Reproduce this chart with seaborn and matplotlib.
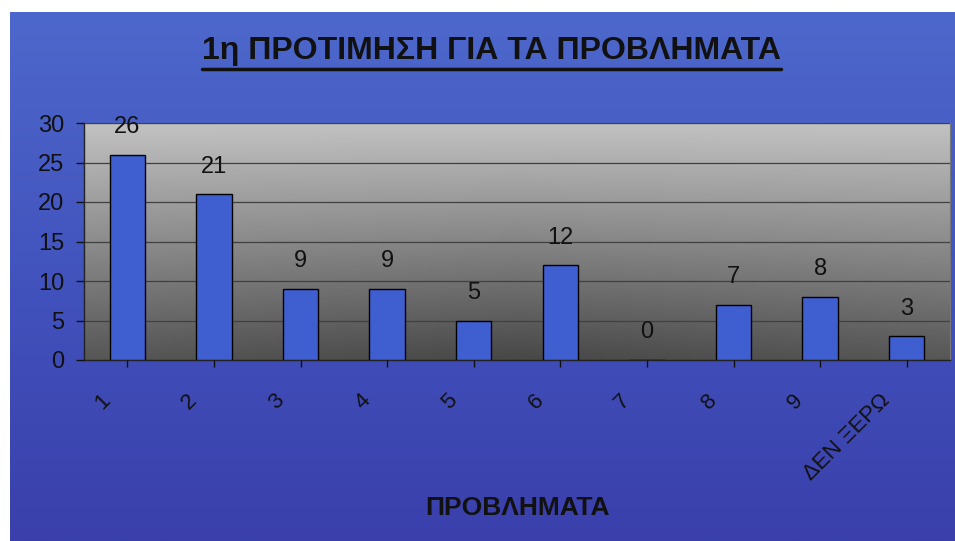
import numpy as np
import pandas as pd
import seaborn as sns
import matplotlib
matplotlib.use("Agg")
import matplotlib.pyplot as plt
from matplotlib.transforms import ScaledTranslation
from matplotlib.colors import LinearSegmentedColormap

categories = ["1", "2", "3", "4", "5", "6", "7", "8", "9", "ΔΕΝ ΞΕΡΩ"]
values = [26, 21, 9, 9, 5, 12, 0, 7, 8, 3]
yticks = [0, 5, 10, 15, 20, 25, 30]
title = "1η ΠΡΟΤΙΜΗΣΗ ΓΙΑ ΤΑ ΠΡΟΒΛΗΜΑΤΑ"
xlabel = "ΠΡΟΒΛΗΜΑΤΑ"

sns.set_theme(style="white")
plt.rcParams['font.family'] = ['Liberation Sans', 'DejaVu Sans']

W, H = 955, 541
fig = plt.figure(figsize=(W / 100, H / 100), dpi=100)
fig.patch.set_facecolor("white")

# blue background panel
bg = fig.add_axes([10 / W, 0, 1 - 10 / W, 1 - 12 / H])
bg.set_zorder(-10)
grad = np.linspace(0, 1, 256).reshape(-1, 1)
blue_cmap = LinearSegmentedColormap.from_list("b", ["#4d68cc", "#4253bd", "#3a3fab"])
bg.imshow(grad, aspect="auto", cmap=blue_cmap, extent=[0, 1, 0, 1], origin="upper")
bg.set_axis_off()

# plot axes
x0, x1 = 84, 950
y0, y1 = 123, 360
ax = fig.add_axes([x0 / W, 1 - y1 / H, (x1 - x0) / W, (y1 - y0) / H])
ax.set_zorder(1)

# gray gradient plot area
gy = np.linspace(0, 1, 200).reshape(-1, 1)
gx = np.linspace(-1, 1, 300).reshape(1, -1)
shade = 0.76 - 0.42 * gy - 0.06 * (1 - np.abs(gx)) * gy
img = np.dstack([shade] * 3)
ax.imshow(img, aspect="auto", extent=[-0.5, 9.5, 0, 30], origin="upper", zorder=0)

df = pd.DataFrame({"cat": categories, "val": values})
sns.barplot(data=df, x="cat", y="val", ax=ax, color="#3f5fd0", saturation=1,
            width=0.41, edgecolor="black", linewidth=1.0, zorder=3)

ax.set_xlim(-0.5, 9.5)
ax.set_ylim(0, 30)
ax.set_yticks(yticks)
ax.yaxis.grid(True, color="#404040", linewidth=0.9)
ax.set_axisbelow(False)
for gl in ax.get_ygridlines():
    gl.set_zorder(1)

for i, v in enumerate(values):
    ax.text(i, v + 2.1, str(v), ha="center", va="bottom", fontsize=17, color="#111111", zorder=4)

ax.tick_params(axis="y", labelsize=17, colors="#111111", length=6, width=1, direction="out", left=True, pad=8)
ax.tick_params(axis="x", labelsize=16, colors="#111111", length=5, width=1, direction="out", bottom=True, pad=22)
ax.set_xticks(range(len(categories)))
ax.set_xticklabels(categories, rotation=45, ha="right", va="center", rotation_mode="anchor")
for lab in ax.get_xticklabels():
    lab.set_transform(lab.get_transform() + ScaledTranslation(-0.2, 0, fig.dpi_scale_trans))

for s in ["top", "right"]:
    ax.spines[s].set_color("#777777")
    ax.spines[s].set_linewidth(0.8)
for s in ["left", "bottom"]:
    ax.spines[s].set_color("#222222")
    ax.spines[s].set_linewidth(1.0)
ax.set_xlabel("")
ax.set_ylabel("")

fig.text(x0 / W + (x1 - x0) / W / 2, 1 - 508 / H, xlabel, ha="center", va="center",
         fontsize=19, fontweight="bold", color="#111111")

t = fig.text(491 / W, 1 - 51 / H, title, ha="center", va="center",
             fontsize=23, fontweight="bold", color="#111111")
fig.canvas.draw()
bb = t.get_window_extent()
fig.add_artist(plt.Line2D([bb.x0 / W, bb.x1 / W], [(bb.y0 - 3) / H, (bb.y0 - 3) / H],
                          color="#111111", linewidth=2.5, transform=fig.transFigure))

fig.savefig("out.png", dpi=100, facecolor=fig.get_facecolor())
